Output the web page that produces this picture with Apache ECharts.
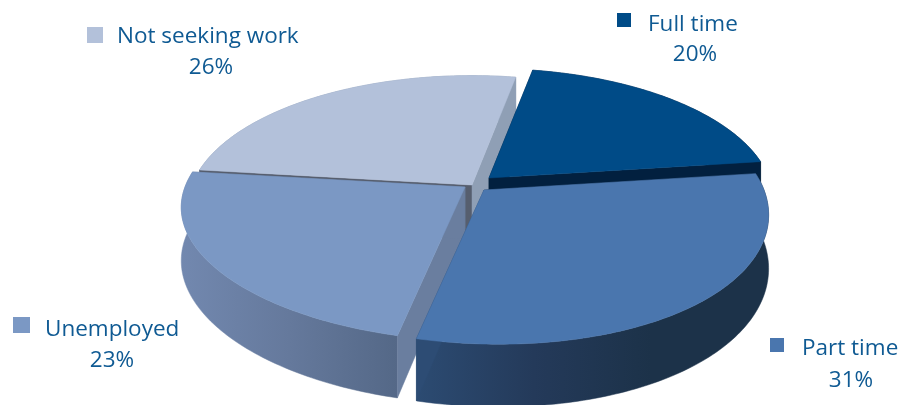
<!DOCTYPE html>
<html>
<head>
<meta charset="utf-8">
<style>html,body{margin:0;padding:0;background:#fff}#chart{width:901px;height:405px}</style>
<script src="https://cdn.jsdelivr.net/npm/echarts@6/dist/echarts.min.js"></script>
</head>
<body>
<div id="chart"></div>
<script>
// Employment status shares, percent
const categories = ['Full time', 'Part time', 'Unemployed', 'Not seeking work'];
const shares = [20, 31, 23, 26];

// Exploded apex of each slice on the canvas
const apexes = [[489, 178], [484, 190], [465, 187], [472, 185]];
const topColors = ['#004b87', '#4a76ae', '#7b98c4', '#b3c1da'];
// Label anchors: key square, name line and value line
const keyBoxes = [[617, 13, 14, 14], [770, 338, 14, 14], [13, 317, 17, 16], [87, 27, 16, 16]];
const nameAnchors = [[648, 25], [802, 349], [45, 330], [117, 37]];
const valueAnchors = [[695, 55], [851, 381], [112, 361], [211, 68]];
// Faces around each slice: outer wall stops, start cut face, end cut face
const wallStops = [
  ['#1b3450', '#12263c'],
  ['#2c4b72', '#243a5a', '#1c3249', '#1c3249'],
  ['#7288af', '#65799c', '#546887'],
  ['#8f9fb5', '#8f9fb5']
];
const startFaceColors = ['#02203f', '#1c3654', '#6a7e9f', '#565e6e'];
const endFaceColors = ['#02203f', '#2d4c74', '#6a7e9f', '#8f9fb5'];
// Back slices are painted before the ones in front of them
const paintOrder = [3, 0, 2, 1];

const START_ANGLE = 10.5;
const RADIUS_X = 280;
const RADIUS_Y = 128;
const PERSPECTIVE = 0.17;
const FRONT_SKEW = 15;
const DEPTH = 52;

const total = shares.reduce((a, b) => a + b, 0);
const startAngles = [];
shares.reduce((acc, v, i) => {
  startAngles[i] = acc;
  return acc + v / total * 360;
}, START_ANGLE);

// Projects a rim angle (clockwise from the back) onto the tilted disc
function rim(apex, deg, drop) {
  const t = deg * Math.PI / 180;
  const u = Math.sin(t), v = Math.cos(t);
  const s = 1 / (1 + PERSPECTIVE * v);
  const skew = v < 0 ? FRONT_SKEW * v * v : 0;
  return [apex[0] + RADIUS_X * u * s + skew, apex[1] - RADIUS_Y * v * s + (drop ? DEPTH * s : 0)];
}

function arc(apex, from, to, drop) {
  const pts = [];
  const n = Math.ceil(to - from);
  for (let i = 0; i <= n; i++) pts.push(rim(apex, from + (to - from) * i / n, drop));
  return pts;
}

function poly(points, fill) {
  return { type: 'polygon', shape: { points }, style: { fill, stroke: fill, lineWidth: 0.5 }, silent: true };
}

function renderSlice(params, api) {
  const i = api.value(0);
  const from = startAngles[i];
  const to = from + api.value(1) / total * 360;
  const apex = apexes[i];
  const low = [apex[0], apex[1] + DEPTH];
  const stops = wallStops[i];
  const wallFill = new echarts.graphic.LinearGradient(0, 0, 1, 0,
    stops.map((color, k) => ({ offset: k / (stops.length - 1), color })));
  const topArc = arc(apex, from, to, false);
  const lowArc = arc(apex, from, to, true);
  const first = 0, last = topArc.length - 1;
  const children = [
    poly(topArc.concat(lowArc.slice().reverse()), wallFill),
    poly([apex, topArc[first], lowArc[first], low], startFaceColors[i]),
    poly([apex, topArc[last], lowArc[last], low], endFaceColors[i]),
    poly([apex].concat(topArc), topColors[i]),
    {
      type: 'rect',
      shape: { x: keyBoxes[i][0], y: keyBoxes[i][1], width: keyBoxes[i][2], height: keyBoxes[i][3] },
      style: { fill: topColors[i] }
    },
    {
      type: 'text',
      style: {
        text: categories[i], x: nameAnchors[i][0], y: nameAnchors[i][1],
        fill: '#0f5a93', font: '22.5px "Open Sans"', textAlign: 'left', textVerticalAlign: 'middle'
      }
    },
    {
      type: 'text',
      style: {
        text: api.value(1) + '%', x: valueAnchors[i][0], y: valueAnchors[i][1],
        fill: '#0f5a93', font: '22.5px "Open Sans"', textAlign: 'center', textVerticalAlign: 'middle'
      }
    }
  ];
  return { type: 'group', children };
}

const chart = echarts.init(document.getElementById('chart'), null, { renderer: 'canvas' });
chart.setOption({
  animation: false,
  backgroundColor: '#ffffff',
  series: [{
    type: 'custom',
    coordinateSystem: 'none',
    renderItem: renderSlice,
    data: paintOrder.map(i => [i, shares[i]])
  }]
});
</script>
</body>
</html>
